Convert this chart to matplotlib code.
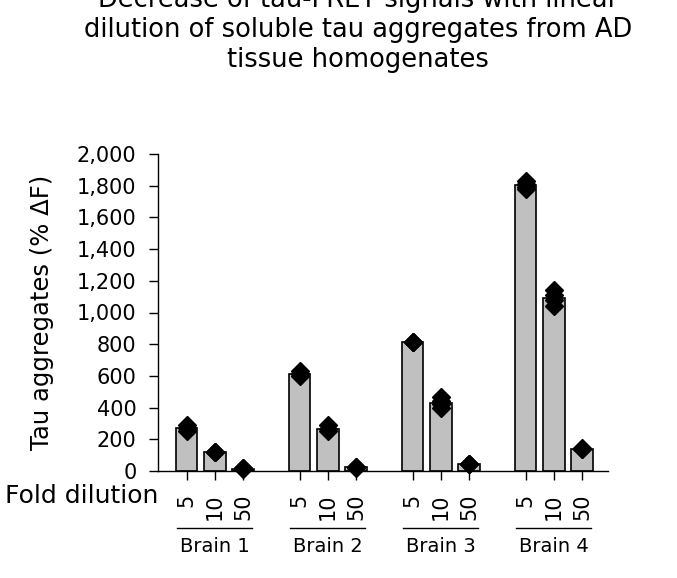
import numpy as np
from matplotlib import pyplot as plt
from matplotlib import transforms

plt.rcParams['font.family'] = ['DejaVu Sans']

# data
brains = ['Brain 1', 'Brain 2', 'Brain 3', 'Brain 4']
dilutions = ['5', '10', '50']
bar_heights = [
	[271, 120, 15],
	[615, 268, 23],
	[814, 431, 44],
	[1803, 1092, 141],
]
replicates = [
	[[288, 270, 255], [122, 118, 120], [12, 16, 17]],
	[[632, 615, 600], [290, 268, 250], [20, 23, 26]],
	[[816, 812, 814], [468, 440, 420, 396], [42, 44, 46]],
	[[1830, 1810, 1790, 1780], [1140, 1110, 1080, 1040], [138, 141, 144]],
]
yticks = [0, 200, 400, 600, 800, 1000, 1200, 1400, 1600, 1800, 2000]

W, H = 677, 578
fig = plt.figure(figsize=(W/100, H/100), dpi=100)
ax = fig.add_axes([158/W, 1-471/H, (608-158)/W, (471-154)/H])

positions = []
for g in range(len(brains)):
	for d in range(len(dilutions)):
		positions.append(g*4 + d)
heights = [h for row in bar_heights for h in row]

ax.bar(positions, heights, width=0.77, color='#c0c0c0', edgecolor='black', linewidth=1.2, zorder=2)

i = 0
for g in range(len(brains)):
	for d in range(len(dilutions)):
		pts = np.array(replicates[g][d])
		x = positions[i]
		ax.errorbar(x, pts.mean(), yerr=pts.std(), color='black', capsize=4, elinewidth=1, capthick=1, zorder=3)
		ax.plot([x]*len(pts), pts, 'D', color='black', markersize=9, zorder=4, clip_on=False)
		i += 1

ax.set_xlim(-1.01, 14.92)
ax.set_ylim(0, 2000)
ax.set_yticks(yticks)
ax.set_yticklabels(['{:,}'.format(v) for v in yticks], fontsize=15)
ax.set_xticks(positions)
ax.set_xticklabels(dilutions*len(brains), rotation=90, fontsize=15, va='top')
ax.tick_params(axis='both', length=6.5, width=1, direction='out')
ax.tick_params(axis='x', pad=10)
ax.tick_params(axis='y', pad=9)
for s in ['top', 'right']:
	ax.spines[s].set_visible(False)
for s in ['left', 'bottom']:
	ax.spines[s].set_linewidth(1)

fig.text(42/W, 1-312/H, 'Tau aggregates (% ΔF)', rotation=90, ha='center', va='center', fontsize=17.5)

trans = transforms.blended_transform_factory(ax.transData, ax.transAxes)
for g, name in enumerate(brains):
	c = g*4 + 1
	ax.plot([c-1.33, c+1.33], [-0.18, -0.18], color='black', linewidth=1, transform=trans, clip_on=False)
	ax.text(c, -0.237, name, transform=trans, ha='center', va='center', fontsize=14)

fig.text(158/W, 1-503/H, 'Fold dilution', ha='right', va='baseline', fontsize=18)

title = ['Decrease of tau-FRET signals with linear',
	'dilution of soluble tau aggregates from AD',
	'tissue homogenates']
for k, line in enumerate(title):
	fig.text(358/W, 1-(0+30*k)/H, line, ha='center', va='center', fontsize=18.5)

fig.savefig('out.png', dpi=100)
